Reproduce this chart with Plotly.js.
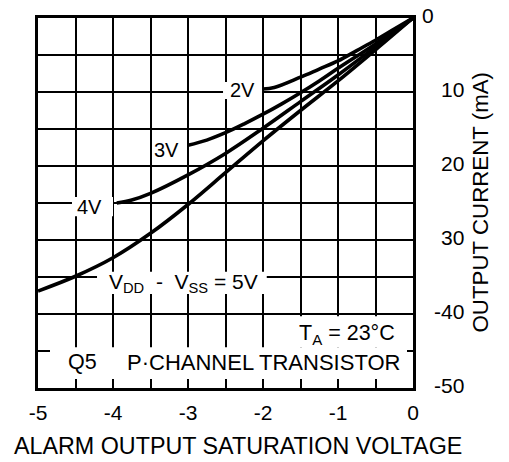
<!DOCTYPE html>
<html><head><meta charset="utf-8">
<script src="https://cdn.plot.ly/plotly-3.0.1.min.js"></script>
<style>html,body{margin:0;padding:0;background:#fff}</style>
</head><body><div id="chart" style="width:509px;height:462px"></div>
<script>
// Data (V in volts, I in mA; current drawn negative downward)
const v2 = [-2.0, -1.85, -1.5, -1.25, -1.0, -0.75, -0.5, -0.25, 0];
const i2 = [-9.6, -9.4, -8.0, -6.9, -5.8, -4.4, -3.0, -1.5, 0];
const v3 = [-3.0, -2.75, -2.5, -2.25, -2.0, -1.75, -1.5, -1.25, -1.0, -0.5, 0];
const i3 = [-17.2, -16.5, -15.5, -14.3, -13.0, -11.6, -10.1, -8.5, -6.8, -3.5, 0];
const v4 = [-3.95, -3.75, -3.5, -3.0, -2.5, -2.0, -1.5, -1.0, -0.5, 0];
const i4 = [-25.0, -24.6, -23.7, -21.2, -18.3, -14.9, -11.3, -7.7, -3.9, 0];
const v5 = [-5.0, -4.5, -4.0, -3.5, -3.0, -2.5, -2.0, -1.5, -1.0, -0.5, 0];
const i5 = [-36.9, -34.9, -32.4, -29.1, -25.2, -20.9, -16.6, -12.5, -8.5, -4.3, 0];

const xTickVals = [-5, -4, -3, -2, -1, 0];
const xTickText = ["-5", "-4", "-3", "-2", "-1", "0"];
const yTickVals = [0, -10, -20, -30, -40, -50];
const yTickText = ["0", "10", "20", "30", "-40", "-50"];
const curveLabels = ["2V", "3V", "4V", "V<sub>DD</sub>\u00a0\u00a0-\u00a0\u00a0V<sub>SS</sub> = 5V"];
const noteTemp = "T<sub>A</sub> = 23°C";
const noteDevice = "Q5";
const noteType = "P·CHANNEL TRANSISTOR";
const xTitle = "ALARM OUTPUT SATURATION VOLTAGE";
const yTitle = "OUTPUT CURRENT (mA)";

const F = 'Liberation Sans, Arial, Helvetica, sans-serif';
const BLACK = '#000';

const lineStyle = {color: BLACK, width: 3.6, shape: 'spline', smoothing: 1};
const traces = [[v2,i2],[v3,i3],[v4,i4],[v5,i5]].map(([x,y]) => ({
  x: x, y: y, type: 'scatter', mode: 'lines', line: lineStyle, hoverinfo: 'skip'
}));

// white boxes behind labels (data coordinates)
const boxes = [
  [-2.533, -2.013, -8.65, -10.95],
  [-3.48, -3.027, -16.5, -19.2],
  [-4.547, -4.0, -24.2, -26.8],
  [-4.213, -1.95, -34.3, -37.3],
  [-1.68, -0.04, -40.3, -44.5],
  [-4.84, -0.08, -44.5, -48.8]
];
const shapes = boxes.map(b => ({
  type: 'rect', xref: 'x', yref: 'y', x0: b[0], x1: b[1], y0: b[2], y1: b[3],
  fillcolor: '#fff', line: {width: 0}, layer: 'above'
}));

const labelPos = [[-2.267, -9.73], [-3.287, -17.77], [-4.32, -25.54], [-3.06, -35.75]];
const annotations = curveLabels.map((t, k) => ({
  text: t, x: labelPos[k][0], y: labelPos[k][1], xref: 'x', yref: 'y',
  showarrow: false, font: {family: F, size: k === 3 ? 21 : 20, color: BLACK}
}));
annotations.push({text: noteTemp, x: -0.88, y: -42.8, xref:'x', yref:'y', showarrow:false, font:{family:F,size:21.5,color:BLACK}});
annotations.push({text: noteDevice, x: -4.413, y: -46.5, xref:'x', yref:'y', showarrow:false, font:{family:F,size:21.5,color:BLACK}});
annotations.push({text: noteType, x: -1.987, y: -46.5, xref:'x', yref:'y', showarrow:false, font:{family:F,size:22,color:BLACK}});

// right-side y tick labels
yTickVals.forEach((v, k) => {
  annotations.push({
    text: yTickText[k], xref: 'paper', yref: 'y', x: v === 0 ? 1.06 : 1.1413, y: v,
    xanchor: 'right', yanchor: 'middle', yshift: 3, showarrow: false,
    font: {family: F, size: 21, color: BLACK}
  });
});
annotations.push({text: xTitle, xref:'paper', yref:'paper', x: 0.5333, y: -0.1568, xanchor:'center', yanchor:'middle', showarrow:false, font:{family:F,size:23.3,color:BLACK}});
annotations.push({text: yTitle, xref:'paper', yref:'paper', x: 1.1787, y: 0.5014, xanchor:'center', yanchor:'middle', textangle:-90, showarrow:false, font:{family:F,size:22.3,color:BLACK}});

const grid = {gridcolor: BLACK, gridwidth: 2};
const layout = {
  width: 509, height: 462,
  margin: {l: 38, r: 96, t: 18, b: 74, pad: 0},
  showlegend: false,
  paper_bgcolor: '#fff', plot_bgcolor: '#fff',
  xaxis: Object.assign({
    range: [-5, 0], tickvals: xTickVals, ticktext: xTickText,
    showgrid: true, zeroline: false, showline: true, mirror: true,
    linecolor: BLACK, linewidth: 3, ticks: '', ticklabelstandoff: 4,
    tickfont: {family: F, size: 21, color: BLACK},
    minor: Object.assign({dtick: 0.5, showgrid: true}, grid),
    fixedrange: true
  }, grid),
  yaxis: Object.assign({
    range: [-50, 0], side: 'right', dtick: 5, tick0: 0,
    showgrid: true, zeroline: false, showline: true, mirror: true,
    linecolor: BLACK, linewidth: 3, ticks: '', showticklabels: false,
    fixedrange: true
  }, grid),
  shapes: shapes,
  annotations: annotations
};
Plotly.newPlot('chart', traces, layout, {staticPlot: true, displayModeBar: false});
</script></body></html>
